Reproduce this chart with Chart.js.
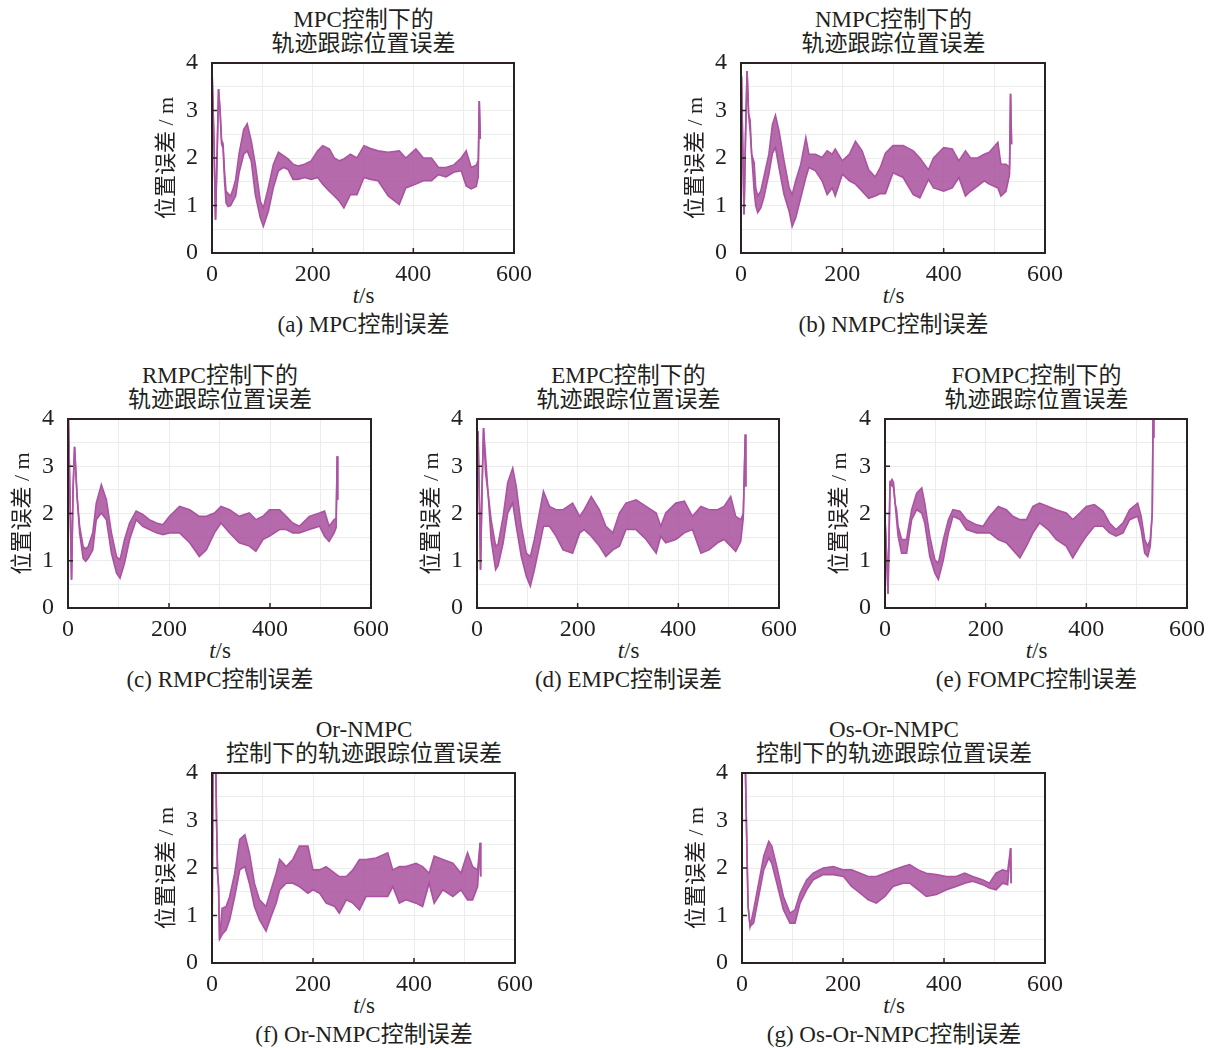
<!DOCTYPE html>
<html>
<head>
<meta charset="utf-8">
<script src="https://cdn.jsdelivr.net/npm/chart.js@4.4.0/dist/chart.umd.min.js"></script>
<style>
body{margin:0;background:#fff;width:1215px;height:1048px;overflow:hidden;position:relative;
  font-family:"Liberation Serif","Noto Sans CJK SC",serif;color:#231f20}
canvas{position:absolute}
.lbl{position:absolute;white-space:nowrap;font-size:23px;line-height:24px;transform:translateX(-50%)}
</style>
</head>
<body>
<script>
// tick labels
const xLabels = [0, 200, 400, 600];
const yLabels = [0, 1, 2, 3, 4];

// (a) MPC : time, upper and lower edge of the oscillation band
const tA  = [0,1,4,7,10,13,16,19,22,25,28,32,37,42,47,54,63,70,78,86,96,102,112,122,132,142,151,161,171,184,197,210,220,233,243,253,262,275,288,302,315,330,350,372,385,405,420,436,450,465,480,495,505,515,525,529,531,533];
const hiA = [3.9,3.9,2.3,0.7,2.0,3.45,3.0,2.38,2.3,1.7,1.3,1.25,1.2,1.35,1.55,2.1,2.6,2.72,2.36,1.87,1.09,0.95,1.38,1.87,2.12,2.05,1.98,1.87,1.83,1.87,1.94,2.15,2.26,2.19,2.0,1.94,1.98,2.08,2.0,2.26,2.2,2.15,2.12,2.15,2.0,2.19,2.0,2.0,1.8,1.8,1.85,2.0,2.15,1.8,1.85,1.95,3.2,2.4];
const loA = [3.9,3.9,2.3,0.7,2.0,3.45,3.0,2.3,2.2,1.5,1.05,0.98,1.0,1.1,1.2,1.7,2.08,2.15,1.94,1.23,0.74,0.56,0.88,1.38,1.73,1.8,1.76,1.55,1.55,1.59,1.55,1.59,1.45,1.3,1.2,1.09,0.95,1.23,1.23,1.59,1.55,1.52,1.2,1.02,1.37,1.45,1.52,1.52,1.65,1.6,1.7,1.73,1.41,1.35,1.4,1.6,3.2,2.4];

// (b) NMPC
const tB  = [0,1,3,6,9,12,15,18,21,26,29,33,39,45,55,62,68,75,85,95,101,108,118,128,134,147,160,170,180,186,200,214,226,239,252,265,275,285,300,320,340,353,370,380,400,417,430,443,453,467,480,490,507,513,523,530,532,534];
const hiB = [3.7,3.72,2.5,0.81,2.5,3.83,2.93,2.8,2.08,1.9,1.37,1.2,1.3,1.59,2.08,2.7,2.9,2.57,1.94,1.37,1.23,1.52,1.87,2.43,2.08,2.08,2.01,2.15,2.08,2.19,1.94,2.08,2.35,2.15,1.75,1.6,1.8,2.1,2.26,2.26,2.15,2.0,1.75,2.0,2.22,2.19,1.94,2.15,2.0,2.0,2.08,2.12,2.33,1.87,1.87,1.8,3.35,2.29];
const loB = [3.7,3.72,2.5,0.81,2.5,3.83,2.93,2.57,2.08,1.3,1.0,0.85,0.95,1.16,1.66,2.1,2.22,1.8,1.23,0.88,0.56,0.74,1.16,1.59,1.8,1.73,1.52,1.23,1.37,1.2,1.66,1.52,1.45,1.3,1.15,1.2,1.25,1.25,1.69,1.59,1.23,1.16,1.55,1.37,1.3,1.37,1.59,1.2,1.3,1.41,1.52,1.45,1.37,1.2,1.3,1.65,3.35,2.29];

// (c) RMPC
const tC  = [0,1,4,7,10,13,18,23,30,35,40,49,56,66,76,86,96,103,112,122,135,148,161,175,188,201,221,241,260,274,290,303,320,339,359,372,386,399,419,432,445,458,478,498,508,517,527,531,533,534];
const hiC = [4.0,3.95,2.3,0.6,2.5,3.41,2.36,1.73,1.3,1.25,1.3,1.59,2.22,2.61,2.29,1.59,1.09,1.02,1.45,1.8,2.05,1.98,1.87,1.8,1.76,1.94,2.15,2.08,1.94,1.94,2.01,2.15,2.08,1.94,2.01,1.87,1.94,2.08,2.08,1.94,1.8,1.73,1.94,2.01,2.05,1.73,1.87,1.9,3.21,2.29];
const loC = [4.0,3.95,2.3,0.6,2.5,3.41,2.36,1.59,1.05,0.99,1.05,1.23,1.87,2.01,1.87,1.16,0.74,0.63,0.95,1.45,1.87,1.73,1.66,1.59,1.55,1.59,1.59,1.38,1.09,1.23,1.59,1.8,1.59,1.38,1.31,1.2,1.45,1.52,1.66,1.66,1.59,1.59,1.66,1.73,1.52,1.41,1.59,1.7,3.21,2.29];

// (d) EMPC
const tD  = [0,2,5,7,10,13,17,22,28,37,42,52,61,71,78,88,98,106,114,124,132,144,157,171,190,204,213,227,243,256,270,283,296,316,336,356,365,375,395,412,428,445,461,478,491,504,514,524,529,533,534];
const hiD = [3.5,3.74,2.2,0.81,2.5,3.81,3.21,2.43,1.87,1.31,1.35,1.94,2.65,2.96,2.57,1.73,1.16,1.09,1.45,2.01,2.47,2.15,2.08,2.08,2.22,1.94,2.08,2.36,2.08,1.73,1.59,2.01,2.22,2.29,2.15,2.01,1.73,2.01,2.22,2.26,1.94,2.15,2.08,2.08,2.15,2.36,1.94,1.87,2.0,3.67,2.57];
const loD = [3.5,3.74,2.2,0.81,2.5,3.81,2.86,2.43,1.45,0.81,0.9,1.38,2.01,2.22,1.73,1.09,0.67,0.46,0.81,1.31,1.73,1.73,1.52,1.23,1.16,1.59,1.66,1.52,1.31,1.09,1.23,1.31,1.66,1.66,1.45,1.16,1.52,1.38,1.45,1.59,1.66,1.16,1.23,1.38,1.45,1.31,1.2,1.41,1.9,3.67,2.57];

// (e) FOMPC
const tE  = [0,3,6,10,14,17,20,23,26,33,43,46,53,63,73,79,89,99,106,116,126,135,149,162,182,195,208,225,241,254,268,281,294,307,324,340,360,373,387,400,416,433,446,459,473,486,502,509,516,522,527,531,533,534];
const hiE = [1.9,1.2,0.3,2.65,2.72,2.65,2.22,2.08,1.73,1.45,1.45,1.66,2.08,2.43,2.54,2.22,1.52,1.02,0.95,1.45,1.87,2.08,2.05,1.87,1.76,1.73,1.94,2.15,2.08,1.94,1.87,1.87,2.15,2.22,2.15,2.08,2.01,1.87,2.01,2.15,2.19,2.05,1.8,1.66,1.8,2.08,2.22,1.94,1.45,1.31,1.45,2.01,4.6,3.6];
const loE = [1.9,1.2,0.3,2.65,2.58,2.55,2.22,1.87,1.52,1.16,1.16,1.38,1.87,2.08,2.01,1.8,1.09,0.74,0.6,1.02,1.59,1.94,1.87,1.66,1.59,1.59,1.59,1.45,1.38,1.23,1.06,1.31,1.59,1.8,1.66,1.45,1.31,1.06,1.31,1.52,1.73,1.73,1.59,1.52,1.59,1.87,1.94,1.66,1.16,1.09,1.31,2.01,4.6,3.6];

// (f) Or-NMPC
const tF  = [0,2,7,9,11,13,15,20,28,35,45,55,65,74,84,94,107,117,127,134,147,160,173,190,200,213,226,243,252,266,279,292,305,325,348,358,371,384,404,417,430,440,457,477,493,506,516,526,531,532];
const hiF = [0.0,4.5,4.5,3.0,1.9,1.6,0.5,1.15,1.19,1.4,1.89,2.6,2.7,2.32,1.68,1.33,1.19,1.54,1.89,2.18,2.03,2.18,2.46,2.46,1.96,1.96,2.03,1.89,1.82,1.82,1.96,2.18,2.18,2.21,2.32,1.96,2.03,2.03,2.1,2.03,1.89,2.25,2.18,2.1,1.89,2.32,2.03,1.96,2.53,1.82];
const loF = [0.0,4.5,4.5,3.0,1.9,1.6,0.5,0.6,0.7,0.91,1.4,1.96,2.03,1.68,1.19,0.91,0.67,0.98,1.26,1.54,1.68,1.68,1.61,1.47,1.54,1.47,1.26,1.19,1.05,1.33,1.26,1.12,1.4,1.4,1.4,1.61,1.26,1.33,1.26,1.19,1.68,1.26,1.54,1.4,1.54,1.33,1.33,1.61,2.53,1.82];

// (g) Os-Or-NMPC
const tG  = [0,6,9,12,16,23,33,43,53,59,69,82,95,105,115,128,141,161,181,201,217,234,250,266,283,299,319,332,349,365,385,405,424,441,457,477,490,503,516,526,532,533];
const hiG = [4.5,4.5,2.8,1.2,0.77,1.12,1.68,2.25,2.56,2.46,2.03,1.4,1.05,1.12,1.47,1.75,1.89,2.0,2.03,1.96,1.96,1.89,1.82,1.82,1.89,1.96,2.03,2.07,1.96,1.89,1.86,1.82,1.82,1.89,1.82,1.75,1.68,1.89,1.96,1.93,2.42,1.68];
const loG = [4.5,4.5,2.8,1.2,0.77,0.84,1.4,1.96,2.21,2.1,1.68,1.12,0.84,0.84,1.26,1.54,1.75,1.86,1.86,1.82,1.61,1.47,1.33,1.26,1.4,1.61,1.68,1.68,1.54,1.4,1.44,1.54,1.61,1.68,1.72,1.65,1.58,1.54,1.68,1.65,2.42,1.68];

const panels = [
  {t: tA, hi: hiA, lo: loA, box: [212, 515, 63, 253], title: ['MPC控制下的', '轨迹跟踪位置误差'], caption: '(a) MPC控制误差'},
  {t: tB, hi: hiB, lo: loB, box: [741, 1046, 63, 253], title: ['NMPC控制下的', '轨迹跟踪位置误差'], caption: '(b) NMPC控制误差'},
  {t: tC, hi: hiC, lo: loC, box: [68, 372, 419, 608], title: ['RMPC控制下的', '轨迹跟踪位置误差'], caption: '(c) RMPC控制误差'},
  {t: tD, hi: hiD, lo: loD, box: [477, 780, 419, 608], title: ['EMPC控制下的', '轨迹跟踪位置误差'], caption: '(d) EMPC控制误差'},
  {t: tE, hi: hiE, lo: loE, box: [885, 1188, 419, 608], title: ['FOMPC控制下的', '轨迹跟踪位置误差'], caption: '(e) FOMPC控制误差'},
  {t: tF, hi: hiF, lo: loF, box: [212, 516, 773, 963], title: ['Or-NMPC', '控制下的轨迹跟踪位置误差'], caption: '(f) Or-NMPC控制误差'},
  {t: tG, hi: hiG, lo: loG, box: [742, 1046, 773, 963], title: ['Os-Or-NMPC', '控制下的轨迹跟踪位置误差'], caption: '(g) Os-Or-NMPC控制误差'}
];

const FAMILY = '"Liberation Serif", "Noto Sans CJK SC", serif';
const TICKFONT = {family: FAMILY, size: 24};
const TITLEFONT = {family: FAMILY, size: 22};
const INK = '#231f20';
const LINE = 'rgb(172,84,162)';
const BAND = 'rgba(168,80,158,0.85)';
// y tick padding (14) + half a label line decides the space above the plot
const PADL = 72, PADR = 24, PADT = 29, PADB = 42;

// box around the plot and the short inward ticks
const frame = {
  id: 'frame',
  afterDatasetsDraw(chart) {
    const {ctx, chartArea: a, scales: {x, y}} = chart;
    ctx.save();
    ctx.strokeStyle = '#2b2222';
    ctx.lineWidth = 2;
    ctx.strokeRect(a.left, a.top, a.right - a.left, a.bottom - a.top);
    ctx.lineWidth = 1.5;
    ctx.beginPath();
    xLabels.forEach(v => {
      const px = x.getPixelForValue(v);
      ctx.moveTo(px, a.bottom);
      ctx.lineTo(px, a.bottom - 5);
    });
    yLabels.forEach(v => {
      const py = y.getPixelForValue(v);
      ctx.moveTo(a.left, py);
      ctx.lineTo(a.left + 5, py);
    });
    ctx.stroke();
    ctx.restore();
  }
};

function label(html, cx, cy) {
  const d = document.createElement('div');
  d.className = 'lbl';
  d.innerHTML = html;
  d.style.left = cx + 'px';
  d.style.top = (cy - 12) + 'px';
  document.body.appendChild(d);
}

panels.forEach(p => {
  const [l, r, t, b] = p.box;
  const cx = (l + r) / 2;
  label(p.title[0], cx, t - 43);
  label(p.title[1], cx, t - 19);
  label('<i>t</i>/s', cx, b + 43);
  label(p.caption, cx, b + 72);

  const c = document.createElement('canvas');
  c.width = r - l + PADL + PADR;
  c.height = b - t + PADT + PADB;
  c.style.left = (l - PADL) + 'px';
  c.style.top = (t - PADT) + 'px';
  document.body.appendChild(c);

  new Chart(c, {
    type: 'line',
    data: {
      datasets: [
        {
          data: p.t.map((x, i) => ({x: x, y: p.hi[i]})),
          borderColor: LINE, backgroundColor: BAND,
          borderWidth: 1.6, pointRadius: 0, tension: 0, fill: '+1'
        },
        {
          data: p.t.map((x, i) => ({x: x, y: p.lo[i]})),
          borderColor: LINE, borderWidth: 1.6, pointRadius: 0, tension: 0, fill: false
        }
      ]
    },
    options: {
      responsive: false,
      animation: false,
      devicePixelRatio: 1,
      layout: {padding: {left: 0, right: PADR, top: PADT, bottom: 0}},
      plugins: {legend: {display: false}, tooltip: {enabled: false}},
      scales: {
        x: {
          type: 'linear', min: 0, max: 600,
          afterFit(s) { s.height = PADB; },
          ticks: {
            stepSize: 100, autoSkip: false, maxRotation: 0, padding: 7,
            font: TICKFONT, color: INK,
            callback: v => xLabels.includes(v) ? v : ''
          },
          grid: {color: '#ececec', drawTicks: false},
          border: {display: false}
        },
        y: {
          min: 0, max: 4,
          afterFit(s) { s.width = PADL; },
          ticks: {
            stepSize: 0.5, autoSkip: false, padding: 14,
            font: TICKFONT, color: INK,
            callback: v => yLabels.includes(v) ? v : ''
          },
          title: {display: true, text: '位置误差 / m', font: TITLEFONT, color: INK, padding: {top: 14, bottom: 0}},
          grid: {color: '#ececec', drawTicks: false},
          border: {display: false}
        }
      }
    },
    plugins: [frame]
  });
});
</script>
</body>
</html>
